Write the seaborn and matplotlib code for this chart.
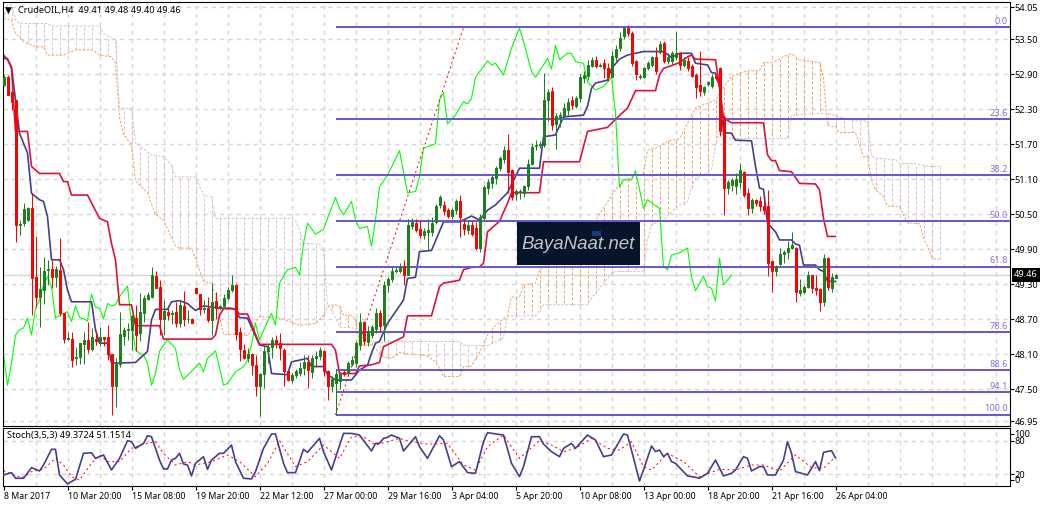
import matplotlib
matplotlib.use("Agg")
import matplotlib.pyplot as plt
from matplotlib.patches import Rectangle
import seaborn as sns

# ── candles (H4 bars, oldest first) ──────────────────────────────────────
opens = [52.72, 52.86, 52.60, 52.46, 50.32, 50.35, 50.40, 50.61, 49.43, 49.08,
         49.21, 49.54, 49.56, 49.42, 49.55, 48.80, 48.36, 48.37, 48.03, 48.05,
         48.27, 48.35, 48.19, 48.37, 48.32, 48.40, 48.40, 48.10, 47.56, 47.93,
         48.42, 48.52, 48.51, 48.73, 48.46, 48.80, 49.05, 49.09, 49.44, 49.25,
         48.70, 48.83, 48.79, 48.82, 48.63, 48.93, 48.70, 48.71, 49.24, 49.13,
         48.88, 48.89, 48.68, 49.02, 48.91, 48.93, 49.07, 49.20, 49.29, 48.48,
         48.17, 48.03, 48.11, 47.92, 47.56, 47.76, 48.16, 48.23, 48.34, 48.29,
         48.18, 47.82, 47.66, 47.75, 47.78, 47.86, 47.96, 47.79, 48.03, 48.07,
         48.16, 47.81, 47.56, 47.60, 47.65, 47.80, 47.79, 47.94, 47.95, 48.26,
         48.65, 48.31, 48.43, 48.53, 48.81, 48.61, 49.29, 49.39, 49.52, 49.53,
         49.62, 49.46, 50.30, 50.35, 50.25, 50.14, 50.20, 50.19, 50.36, 50.66,
         50.66, 50.57, 50.47, 50.57, 50.72, 50.33, 50.23, 50.32, 50.26, 49.92,
         50.43, 50.95, 51.03, 51.12, 51.29, 51.44, 51.61, 51.26, 50.85, 50.88,
         50.87, 50.98, 51.36, 51.67, 51.68, 51.69, 52.46, 52.62, 52.05, 52.17,
         52.19, 52.29, 52.46, 52.36, 52.49, 52.84, 52.87, 53.05, 53.15, 53.04,
         53.10, 53.00, 52.86, 53.19, 53.35, 53.55, 53.70, 53.61, 53.13, 52.85,
         52.85, 53.00, 53.06, 53.20, 53.29, 53.43, 53.13, 53.13, 53.20, 53.26,
         53.06, 53.12, 53.04, 52.89, 52.72, 52.59, 52.73, 52.70, 52.87, 53.00,
         52.17, 50.95, 51.00, 50.98, 51.06, 51.23, 50.86, 50.60, 50.74, 50.72,
         50.65, 50.65, 49.70, 49.52, 49.65, 49.82, 49.86, 49.92, 49.92, 49.15,
         49.17, 49.26, 49.46, 49.24, 49.22, 49.00, 49.75, 49.23, 49.41]
highs = [52.88, 52.88, 52.62, 52.46, 50.40, 50.69, 50.62, 50.86, 50.12, 49.60,
         49.77, 49.72, 49.72, 49.62, 50.10, 48.80, 48.49, 48.49, 48.23, 48.30,
         48.49, 48.66, 48.55, 48.49, 48.57, 48.40, 48.60, 48.10, 48.03, 48.82,
         48.56, 48.63, 48.78, 48.95, 49.15, 49.12, 49.17, 49.60, 49.52, 49.37,
         49.03, 48.89, 48.86, 49.00, 49.03, 49.19, 48.86, 48.72, 49.26, 49.13,
         49.03, 49.09, 49.33, 49.17, 48.95, 49.13, 49.26, 49.46, 49.31, 48.57,
         48.27, 48.20, 48.12, 48.09, 47.78, 48.26, 48.27, 48.40, 48.43, 48.46,
         48.20, 47.83, 47.78, 47.84, 47.97, 48.09, 48.09, 48.09, 48.15, 48.23,
         48.17, 47.83, 47.72, 47.83, 47.80, 47.83, 47.98, 48.07, 48.33, 48.80,
         48.67, 48.58, 48.60, 48.90, 48.86, 49.35, 49.43, 49.60, 49.60, 49.67,
         49.72, 50.42, 50.43, 50.42, 50.40, 50.27, 50.42, 50.45, 50.68, 50.83,
         50.72, 50.60, 50.60, 50.76, 50.83, 50.42, 50.40, 50.38, 50.37, 50.50,
         51.00, 51.10, 51.18, 51.32, 51.50, 51.67, 51.87, 51.28, 50.94, 50.94,
         51.00, 51.45, 51.72, 51.77, 51.75, 52.92, 52.65, 52.68, 52.23, 52.26,
         52.40, 52.50, 52.52, 52.52, 52.90, 52.95, 53.15, 53.20, 53.22, 53.10,
         53.17, 53.10, 53.30, 53.40, 53.62, 53.72, 53.74, 53.65, 53.15, 52.90,
         53.02, 53.13, 53.22, 53.37, 53.47, 53.47, 53.27, 53.30, 53.62, 53.28,
         53.20, 53.20, 53.08, 52.92, 53.30, 52.70, 52.78, 52.90, 52.90, 53.02,
         52.20, 51.08, 51.13, 51.20, 51.38, 51.25, 50.95, 50.78, 50.76, 50.82,
         50.73, 50.92, 49.72, 49.63, 49.92, 49.89, 50.05, 50.20, 49.94, 49.39,
         49.28, 49.52, 49.46, 49.46, 49.23, 49.82, 49.76, 49.49, 49.48]
lows = [52.70, 52.55, 52.29, 50.03, 50.15, 50.30, 50.38, 48.77, 48.91, 48.57,
        48.97, 49.29, 49.23, 49.26, 48.75, 48.30, 48.34, 47.88, 47.92, 47.94,
        47.94, 48.12, 48.15, 48.26, 48.24, 48.24, 48.00, 47.06, 47.19, 47.89,
        48.26, 48.35, 48.17, 48.15, 48.32, 48.66, 49.03, 49.06, 49.23, 48.43,
        48.43, 48.69, 48.62, 48.57, 48.57, 48.59, 48.63, 48.63, 49.14, 48.77,
        48.80, 48.66, 48.43, 48.70, 48.87, 48.91, 49.03, 49.17, 48.35, 47.99,
        48.02, 47.96, 47.74, 47.38, 47.04, 47.52, 47.95, 48.03, 48.20, 48.00,
        47.56, 47.65, 47.60, 47.69, 47.73, 47.74, 47.52, 47.69, 47.89, 48.00,
        47.72, 47.32, 47.46, 47.06, 47.50, 47.72, 47.74, 47.90, 47.88, 48.18,
        48.26, 48.24, 48.38, 48.47, 48.49, 48.33, 49.17, 49.34, 49.50, 49.50,
        49.28, 49.46, 50.25, 50.20, 50.10, 50.08, 49.89, 50.12, 50.33, 50.60,
        50.48, 50.43, 50.42, 50.50, 50.11, 50.14, 50.16, 50.12, 49.89, 49.86,
        50.40, 50.85, 50.95, 51.02, 51.25, 51.38, 50.86, 50.75, 50.74, 50.77,
        50.80, 50.92, 51.34, 51.60, 51.63, 51.65, 52.10, 51.95, 51.62, 52.00,
        52.15, 52.20, 52.30, 52.32, 52.42, 52.75, 52.80, 53.02, 53.00, 53.02,
        52.83, 52.78, 52.85, 53.12, 53.30, 53.50, 53.55, 53.05, 52.80, 52.82,
        52.84, 52.98, 53.03, 52.90, 53.25, 53.10, 53.08, 53.07, 53.15, 52.98,
        53.02, 52.96, 52.85, 52.50, 52.53, 52.55, 52.70, 52.66, 52.80, 51.85,
        50.49, 50.85, 50.90, 50.85, 50.95, 50.80, 50.48, 50.52, 50.64, 50.56,
        50.50, 49.44, 49.17, 49.44, 49.63, 49.66, 49.73, 49.90, 49.00, 49.10,
        49.13, 49.23, 49.15, 49.12, 48.85, 48.93, 49.21, 49.16, 49.40]
closes = [52.86, 52.55, 52.43, 50.32, 50.34, 50.59, 50.60, 49.40, 49.08, 49.22,
          49.52, 49.57, 49.42, 49.56, 48.80, 48.37, 48.38, 48.01, 48.05, 48.29,
          48.35, 48.19, 48.39, 48.33, 48.40, 48.37, 48.10, 47.56, 47.93, 48.44,
          48.52, 48.53, 48.75, 48.43, 48.83, 49.06, 49.12, 49.46, 49.24, 48.70,
          48.84, 48.77, 48.81, 48.63, 48.95, 48.70, 48.71, 48.64, 49.15, 48.87,
          48.90, 48.69, 49.00, 48.89, 48.93, 49.07, 49.20, 49.29, 48.45, 48.19,
          48.03, 48.10, 47.92, 47.56, 47.77, 48.16, 48.23, 48.35, 48.29, 48.20,
          47.82, 47.66, 47.75, 47.82, 47.86, 47.96, 47.83, 48.03, 48.07, 48.17,
          47.82, 47.56, 47.67, 47.77, 47.76, 47.76, 47.95, 48.00, 48.29, 48.66,
          48.32, 48.50, 48.56, 48.80, 48.59, 49.29, 49.39, 49.53, 49.55, 49.59,
          49.46, 50.31, 50.37, 50.23, 50.14, 50.21, 50.23, 50.35, 50.65, 50.80,
          50.55, 50.47, 50.57, 50.73, 50.46, 50.24, 50.32, 50.17, 49.92, 50.45,
          50.97, 51.06, 51.14, 51.29, 51.46, 51.60, 51.23, 50.80, 50.90, 50.90,
          50.98, 51.37, 51.66, 51.69, 51.70, 52.46, 52.59, 52.03, 52.19, 52.20,
          52.32, 52.43, 52.37, 52.49, 52.85, 52.89, 53.06, 53.15, 53.04, 53.06,
          53.00, 52.86, 53.21, 53.33, 53.53, 53.69, 53.60, 53.10, 52.91, 52.87,
          53.00, 53.10, 53.19, 52.95, 53.42, 53.13, 53.19, 53.26, 53.26, 53.06,
          53.15, 53.00, 52.87, 52.68, 52.62, 52.68, 52.76, 52.86, 52.83, 51.92,
          50.95, 51.06, 51.09, 51.10, 51.26, 50.83, 50.60, 50.75, 50.70, 50.65,
          50.57, 49.67, 49.52, 49.59, 49.82, 49.86, 49.92, 49.97, 49.17, 49.20,
          49.26, 49.46, 49.24, 49.21, 49.00, 49.75, 49.26, 49.42, 49.46]

# ── ichimoku cloud spans, one value per bar (runs 26 bars past the last candle) ──
senkou_a = [53.86, 53.84, 53.83, 53.60, 53.53, 53.46, 53.43, 53.40, 53.37, 53.37,
            53.37, 53.23, 53.23, 53.23, 53.23, 53.23, 53.26, 53.29, 53.32, 53.32,
            53.32, 53.32, 53.32, 53.28, 53.23, 53.22, 53.21, 53.20, 53.09, 52.17,
            51.87, 51.78, 51.70, 51.07, 51.00, 50.94, 50.87, 50.68, 50.50, 50.45,
            50.40, 50.25, 50.10, 49.96, 49.92, 49.92, 49.92, 49.92, 49.74, 49.55,
            49.35, 49.33, 49.32, 49.10, 48.75, 48.44, 48.44, 48.44, 48.44, 48.43,
            48.43, 48.42, 48.53, 48.64, 48.75, 48.74, 48.74, 48.73, 48.73, 48.72,
            48.70, 48.67, 48.65, 48.62, 48.60, 48.60, 48.61, 48.62, 48.63, 48.70,
            48.76, 48.92, 48.94, 48.95, 48.92, 48.77, 48.77, 48.77, 48.69, 48.26,
            48.26, 48.26, 48.26, 48.19, 48.12, 48.06, 48.04, 48.03, 48.08, 48.13,
            48.12, 48.11, 48.10, 48.10, 48.09, 48.08, 48.07, 48.02, 47.97, 47.86,
            47.72, 47.72, 47.72, 47.72, 47.72, 47.89, 47.89, 47.90, 48.02, 48.14,
            48.26, 48.43, 48.52, 48.59, 48.66, 48.71, 48.77, 49.08, 49.08, 49.08,
            49.29, 49.30, 49.31, 49.32, 49.55, 49.60, 49.64, 49.68, 49.72, 49.76,
            49.80, 49.87, 49.94, 50.01, 50.08, 50.15, 50.23, 50.32, 50.40, 50.50,
            50.61, 50.71, 50.82, 50.92, 51.00, 51.09, 51.11, 51.13, 51.16, 51.18,
            51.20, 51.60, 51.62, 51.63, 51.67, 51.71, 51.75, 51.77, 51.78, 51.80,
            51.92, 52.06, 52.20, 52.32, 52.35, 52.38, 52.40, 52.43, 52.46, 52.57,
            52.68, 52.77, 52.86, 52.89, 52.92, 52.94, 52.96, 52.96, 52.96, 52.96,
            53.10, 53.10, 53.10, 53.13, 53.16, 53.20, 53.23, 53.25, 53.20, 53.15,
            53.14, 53.13, 53.12, 53.11, 53.10, 52.83, 52.03, 52.01, 52.00, 51.90,
            51.90, 51.90, 51.90, 51.90, 51.69, 51.49, 51.49, 51.09, 50.92, 50.86,
            50.80, 50.64, 50.64, 50.63, 50.63, 50.49, 50.35, 50.35, 50.34, 50.34,
            50.09, 49.95, 49.77, 49.73, 49.73]
senkou_b = [53.86, 54.09, 54.09, 53.83, 53.77, 53.77, 53.77, 53.77, 53.77, 53.77,
            53.77, 53.77, 53.73, 53.73, 53.73, 53.73, 53.73, 53.73, 53.73, 53.73,
            53.73, 53.73, 53.73, 53.73, 53.73, 53.60, 53.56, 53.53, 53.49, 52.32,
            52.32, 52.32, 52.32, 51.72, 51.68, 51.63, 51.57, 51.52, 51.51, 51.50,
            51.49, 51.42, 51.34, 51.14, 51.14, 51.14, 51.14, 51.14, 51.14, 50.98,
            50.83, 50.81, 50.80, 50.43, 50.43, 50.43, 50.43, 50.43, 50.43, 50.43,
            50.43, 50.43, 50.43, 50.43, 50.43, 50.43, 50.43, 50.43, 50.43, 50.43,
            50.43, 50.43, 50.43, 50.40, 50.23, 50.00, 50.00, 50.00, 49.99, 49.99,
            49.90, 48.95, 48.85, 48.72, 48.57, 48.56, 48.56, 48.55, 48.55, 48.40,
            48.38, 48.36, 48.33, 48.31, 48.29, 48.30, 48.31, 48.32, 48.32, 48.33,
            48.32, 48.32, 48.32, 48.32, 48.32, 48.32, 48.32, 48.32, 48.32, 48.32,
            48.32, 48.32, 48.32, 48.32, 48.32, 48.26, 48.25, 48.25, 48.25, 48.25,
            48.25, 48.25, 48.28, 48.31, 48.34, 48.38, 48.76, 48.76, 48.76, 48.76,
            48.76, 48.76, 48.76, 48.76, 48.85, 48.95, 48.95, 48.95, 48.95, 48.95,
            48.95, 48.95, 48.95, 48.95, 48.95, 48.95, 48.95, 49.07, 49.15, 49.23,
            49.32, 49.40, 49.48, 49.52, 49.52, 49.52, 49.52, 49.52, 49.52, 49.52,
            49.52, 50.06, 50.32, 50.35, 50.38, 50.40, 50.47, 50.53, 50.60, 50.66,
            50.67, 50.72, 50.95, 51.11, 51.15, 51.19, 51.22, 51.26, 51.70, 51.89,
            51.86, 51.82, 51.79, 51.80, 51.80, 51.80, 51.80, 51.80, 51.80, 51.80,
            51.80, 51.80, 51.80, 51.80, 51.80, 51.80, 51.80, 52.20, 52.20, 52.21,
            52.21, 52.22, 52.22, 52.22, 52.23, 52.23, 52.23, 52.21, 52.19, 52.17,
            52.15, 52.13, 52.12, 52.10, 52.10, 52.10, 52.10, 51.50, 51.46, 51.46,
            51.45, 51.45, 51.44, 51.44, 51.37, 51.37, 51.37, 51.37, 51.37, 51.35,
            51.34, 51.32, 51.32, 51.32, 51.32]

# ── tenkan / kijun / chikou, turning points only ─────────────────────────
tenkan_bars = [0, 1, 2, 4, 5, 6, 7, 9, 10, 11, 12, 14, 15, 16, 17, 22, 23, 24, 26, 27, 29, 33, 36, 37, 38, 41,
               42, 44, 46, 48, 50, 54, 57, 58, 59, 61, 64, 66, 67, 71, 72, 76, 77, 80, 81, 83, 87, 89, 91, 92,
               93, 94, 96, 100, 101, 103, 104, 107, 110, 114, 117, 119, 121, 123, 126, 129, 134, 135, 138, 140,
               145, 146, 147, 148, 151, 152, 154, 156, 160, 165, 167, 169, 172, 173, 176, 177, 178, 179, 180,
               182, 183, 187, 188, 189, 190, 191, 193, 194, 197, 198, 199, 200, 203, 204, 205, 206, 208]
tenkan_vals = [53.23, 53.15, 53.03, 51.89, 51.72, 51.55, 50.86, 50.75, 50.72, 50.46, 49.72, 49.72, 49.55, 49.20,
               49.00, 49.00, 48.52, 48.29, 48.29, 47.95, 47.95, 47.96, 48.15, 48.69, 48.87, 48.87, 49.00, 49.02,
               48.97, 48.85, 48.93, 48.89, 48.89, 48.86, 48.73, 48.72, 48.26, 48.23, 47.77, 47.75, 47.97, 48.03,
               47.89, 47.89, 47.75, 47.66, 47.66, 47.83, 47.91, 48.12, 48.29, 48.32, 48.63, 49.03, 49.40, 49.42,
               49.86, 49.88, 50.37, 50.37, 50.47, 50.40, 50.57, 50.66, 50.87, 51.29, 51.29, 51.83, 51.86, 52.17,
               52.20, 52.35, 52.66, 52.75, 52.80, 53.00, 53.16, 53.23, 53.29, 53.29, 53.19, 53.26, 53.26, 53.09,
               53.06, 52.93, 52.92, 52.69, 51.90, 51.89, 51.77, 51.76, 51.32, 50.95, 50.93, 50.35, 50.20, 50.06,
               50.06, 49.99, 49.97, 49.63, 49.63, 49.55, 49.52, 49.35, 49.35]
kijun_bars = [0, 1, 2, 3, 6, 7, 9, 14, 15, 16, 17, 21, 24, 26, 27, 28, 29, 32, 33, 39, 40, 52, 53, 54, 55, 58, 59,
              61, 64, 82, 83, 84, 88, 89, 92, 94, 95, 100, 101, 107, 109, 110, 114, 115, 117, 119, 120, 121, 124,
              126, 127, 134, 135, 144, 146, 151, 153, 156, 158, 163, 164, 165, 169, 171, 172, 173, 178, 179, 180,
              182, 190, 191, 192, 193, 194, 197, 199, 203, 204, 205, 206, 208]
kijun_vals = [53.17, 53.17, 53.00, 51.92, 51.92, 51.32, 51.20, 51.20, 51.06, 51.06, 50.83, 50.83, 50.43, 50.37,
              50.00, 49.72, 48.95, 48.95, 48.59, 48.59, 48.36, 48.36, 48.43, 48.77, 48.88, 48.88, 48.79, 48.79,
              48.27, 48.27, 48.17, 47.77, 47.77, 47.90, 47.92, 47.96, 48.23, 48.40, 48.76, 48.76, 49.26, 49.32,
              49.37, 49.55, 49.59, 49.60, 49.66, 50.20, 50.38, 50.69, 50.87, 50.87, 51.40, 51.40, 51.92, 51.99,
              52.13, 52.32, 52.62, 52.62, 52.89, 53.00, 53.10, 53.20, 53.23, 53.16, 53.15, 52.69, 52.15, 52.07,
              52.07, 51.52, 51.42, 51.42, 51.25, 51.23, 51.03, 51.02, 50.92, 50.43, 50.12, 50.12]
chikou_bars = [0, 1, 2, 3, 4, 5, 6, 7, 8, 9, 10, 11, 12, 13, 14, 15, 16, 17, 18, 19, 20, 21, 22, 23, 24, 25, 26, 27,
               28, 29, 31, 32, 33, 34, 35, 36, 37, 38, 39, 41, 43, 44, 45, 49, 50, 51, 53, 55, 56, 58, 60, 61, 62,
               63, 64, 66, 67, 68, 69, 71, 73, 74, 75, 76, 78, 80, 81, 83, 84, 85, 87, 88, 89, 91, 92, 93, 94, 96,
               99, 101, 103, 104, 105, 108, 109, 110, 111, 113, 115, 116, 117, 118, 121, 122, 123, 125, 127, 129,
               130, 132, 133, 136, 137, 138, 139, 141, 142, 143, 145, 146, 148, 150, 152, 153, 154, 155, 157, 158,
               160, 161, 164, 165, 166, 167, 169, 171, 172, 173, 175, 176, 177, 178, 179, 180, 182]
chikou_vals = [48.09, 47.57, 47.95, 48.43, 48.52, 48.55, 48.72, 48.43, 48.89, 49.03, 49.29, 49.43, 49.26, 48.72,
               48.77, 48.80, 48.83, 48.66, 48.93, 48.73, 48.71, 48.67, 49.13, 48.91, 48.89, 48.71, 48.97, 48.93,
               48.95, 49.09, 49.27, 48.63, 48.17, 48.12, 48.09, 47.95, 47.57, 47.77, 48.15, 48.35, 48.20, 47.83,
               47.67, 47.95, 47.80, 48.03, 48.16, 47.57, 47.60, 47.80, 47.89, 48.00, 48.26, 48.63, 48.35, 48.66,
               48.80, 48.60, 49.32, 49.55, 49.59, 49.46, 50.00, 50.35, 50.16, 50.24, 50.43, 50.79, 50.60, 50.49,
               50.72, 50.40, 50.26, 50.29, 49.95, 50.40, 50.97, 51.17, 51.59, 50.87, 50.89, 51.15, 51.63, 51.71,
               52.46, 52.59, 52.05, 52.20, 52.43, 52.39, 52.49, 52.85, 53.13, 53.06, 53.09, 52.89, 53.35, 53.69,
               53.46, 52.95, 52.85, 53.17, 52.99, 53.40, 53.15, 53.26, 53.26, 53.12, 53.09, 52.77, 52.63, 52.69,
               52.85, 52.23, 50.97, 51.09, 51.09, 51.25, 50.60, 50.75, 50.60, 49.60, 49.55, 49.80, 49.84, 49.92,
               49.43, 49.19, 49.44, 49.26, 49.23, 49.01, 49.75, 49.29, 49.46]

# fibo retracement levels and the red dotted trend line of the retracement
fib_levels = [53.71, 52.13, 51.17, 50.385, 49.60, 48.48, 47.83, 47.45, 47.06]
fib_labels = ["0.0", "23.6", "38.2", "50.0", "61.8", "78.6", "88.6", "94.1", "100.0"]
fib_start = 83
trend_bars = [83, 115]
trend_vals = [47.06, 53.70]
last_price = 49.46

# ── stochastic pane ──────────────────────────────────────────────────────
stoch_bars = [0, 2, 3, 5, 7, 9, 10, 12, 13, 14, 16, 18, 20, 22, 23, 25, 27, 29, 31, 32, 33, 35, 36, 37, 39, 40, 41,
              42, 43, 44, 45, 46, 47, 48, 50, 51, 52, 54, 55, 57, 58, 60, 62, 63, 65, 67, 68, 70, 71, 73, 75, 76,
              79, 80, 82, 85, 87, 89, 92, 93, 94, 95, 96, 97, 99, 100, 103, 104, 106, 109, 110, 112, 114, 116, 118,
              120, 121, 125, 127, 129, 130, 132, 134, 135, 137, 139, 140, 142, 143, 146, 148, 150, 152, 155, 156,
              159, 160, 162, 163, 164, 165, 166, 167, 168, 171, 173, 174, 176, 178, 180, 182, 183, 185, 186, 187,
              189, 190, 191, 193, 195, 196, 197, 198, 201, 203, 204, 205, 207, 208]
stoch_vals = [18.8, 23.0, 12.9, 12.9, 31.9, 25.9, 36.6, 64.6, 64.6, 18.8, 2.8, 11.1, 57.4, 58.6, 48.5, 54.5, 27.7,
              48.5, 80.0, 78.2, 66.3, 75.2, 88.9, 87.1, 45.5, 29.5, 29.5, 45.5, 48.5, 57.4, 38.4, 36.6, 17.0, 39.6,
              51.5, 28.9, 45.5, 57.4, 57.4, 72.3, 42.6, 12.9, 11.7, 24.8, 66.3, 91.9, 91.9, 39.6, 23.0, 23.0, 64.6,
              59.2, 84.2, 60.4, 27.7, 93.0, 93.0, 90.1, 61.6, 75.2, 75.2, 84.2, 85.9, 90.1, 84.2, 61.6, 87.1, 69.3,
              48.5, 88.9, 81.2, 33.7, 42.6, 23.0, 21.8, 78.2, 94.3, 90.1, 39.6, 15.8, 33.7, 87.1, 87.1, 74.0, 60.4,
              51.5, 66.3, 75.2, 66.3, 90.1, 81.2, 51.5, 54.5, 91.9, 90.1, 8.1, 27.7, 70.5, 60.4, 63.4, 51.5, 57.4,
              42.6, 39.6, 17.0, 14.7, 12.9, 21.8, 45.5, 17.0, 21.8, 27.7, 51.5, 48.5, 25.9, 33.7, 33.7, 18.8, 18.8,
              45.5, 78.2, 57.4, 24.8, 18.8, 42.6, 26.5, 59.2, 62.2, 49.4]
signal_bars = [0, 3, 5, 7, 10, 13, 15, 17, 19, 22, 24, 26, 29, 32, 35, 38, 40, 43, 46, 48, 52, 56, 59, 63, 66, 69, 73,
               76, 80, 84, 87, 90, 93, 96, 99, 102, 106, 111, 115, 118, 121, 125, 129, 134, 137, 140, 143, 147, 151,
               154, 157, 160, 162, 166, 170, 174, 179, 183, 187, 190, 194, 198, 202, 205, 208]
signal_vals = [26.5, 17.0, 14.7, 24.8, 28.9, 48.5, 36.6, 15.8, 9.9, 39.6, 54.5, 42.6, 42.6, 66.3, 74.0, 78.2, 57.4,
               36.6, 42.6, 36.6, 42.6, 54.5, 42.6, 15.8, 39.6, 80.0, 33.7, 42.6, 72.3, 48.5, 87.1, 87.1, 72.3, 78.2,
               84.2, 78.2, 74.0, 75.2, 36.6, 27.7, 69.3, 90.1, 48.5, 80.0, 72.3, 60.4, 66.3, 84.2, 66.3, 63.4, 78.2,
               33.7, 27.7, 57.4, 42.6, 15.8, 28.9, 27.7, 36.6, 36.6, 25.9, 54.5, 31.9, 30.7, 51.15]

# ── axis ticks ───────────────────────────────────────────────────────────
price_ticks = [54.05, 53.50, 52.90, 52.30, 51.70, 51.10, 50.50, 49.90, 49.30, 48.70, 48.10, 47.50, 46.95]
date_tick_bars = [0, 16, 32, 48, 64, 80, 96, 112, 128, 144, 160, 176, 192, 208]
date_labels = ["8 Mar 2017", "10 Mar 20:00", "15 Mar 08:00", "19 Mar 20:00", "22 Mar 12:00", "27 Mar 00:00",
               "29 Mar 16:00", "3 Apr 04:00", "5 Apr 20:00", "10 Apr 08:00", "13 Apr 00:00", "18 Apr 20:00",
               "21 Apr 16:00", "26 Apr 04:00"]
grid_bars = list(range(8, 249, 8))

sns.set_theme(style="white")
plt.rcParams["font.family"] = ["Noto Sans", "DejaVu Sans"]
plt.rcParams["axes.linewidth"] = 0.8

W, H = 1049, 507
fig = plt.figure(figsize=(W / 100, H / 100), dpi=100, facecolor="white")
ax = fig.add_axes([2.5 / W, (H - 425.5) / H, 1007 / W, 423 / H])
ax_st = fig.add_axes([2.5 / W, (H - 486) / H, 1007 / W, 58.5 / H])

GRID = "#d6d6d6"
GREEN = "#1c801c"
RED = "#ff0000"
SANDY = "#f4a460"
THISTLE = "#d8bfd8"
SLATE = "#6a5acd"
TXT = 6.6


def draw_line(axis, xs, ys, color, lw, z, ls="-", aa=True):
    sns.lineplot(x=xs, y=ys, color=color, linewidth=lw, linestyle=ls, estimator=None, antialiased=aa,
                 sort=False, errorbar=None, legend=False, ax=axis, zorder=z)


# cloud hatch on every second bar, then the span lines
cloud_x = list(range(len(senkou_a)))
cloud_colors = [SANDY if a > b else THISTLE for a, b in zip(senkou_a, senkou_b)]
hatch = ax.vlines(cloud_x[::2], senkou_a[::2], senkou_b[::2], colors=cloud_colors[::2], linewidth=0.72,
                  linestyles=[(0, (3, 2))], zorder=1.5)
hatch.set_snap(True)
draw_line(ax, cloud_x, senkou_a, SANDY, 0.72, 1.6, ls=(0, (2.5, 1.5)))
draw_line(ax, cloud_x, senkou_b, THISTLE, 0.72, 1.6, ls=(0, (2.5, 1.5)))

ax.axhline(last_price, color=GRID, linewidth=1, zorder=1.2)
draw_line(ax, chikou_bars, chikou_vals, "#00ff00", 0.8, 2)
draw_line(ax, tenkan_bars, tenkan_vals, "#483d8b", 1.2, 2.2)
draw_line(ax, kijun_bars, kijun_vals, "#dc143c", 1.2, 2.3)
draw_line(ax, trend_bars, trend_vals, RED, 0.72, 2.4, ls=(0, (2, 3)))

# fibo levels
ax.hlines(fib_levels, fib_start, 251.5, color=SLATE, linewidth=1.45, zorder=2.5)
for level, label in zip(fib_levels, fib_labels):
    ax.text(251.1, level + 0.025, label, color="#7f74dc", fontsize=TXT, ha="right", va="bottom", zorder=6)

# candles
candle_x = list(range(len(opens)))
colors = [GREEN if c >= o else RED for o, c in zip(opens, closes)]
ax.vlines(candle_x, lows, highs, colors=colors, linewidth=0.72, zorder=3)
ax.bar(candle_x, [abs(c - o) for o, c in zip(opens, closes)], bottom=[min(o, c) for o, c in zip(opens, closes)],
       width=0.5, color=colors, edgecolor=colors, linewidth=0.72, zorder=3.1)

# watermark
ax.add_patch(Rectangle((128.4, 49.63), 30.7, 0.74, facecolor="#06152a", edgecolor="none", zorder=5))
ax.add_patch(Rectangle((147.2, 50.12), 2.1, 0.09, facecolor="#1c3a78", edgecolor="none", zorder=5.1))
ax.text(143.7, 49.99, "BayaNaat.net", color="#c4c4c4", fontsize=13.5, family="Liberation Sans", style="italic",
        ha="center", va="center", zorder=5.2)

# header texts
ax.text(0.0062, 0.9815, "\u25bc", transform=ax.transAxes, fontsize=6.5, family="DejaVu Sans",
        color="black", ha="center", va="center", zorder=6)
ax.text(0.0155, 0.982, "CrudeOIL,H4  49.41 49.48 49.40 49.46", transform=ax.transAxes, fontsize=TXT,
        color="black", ha="left", va="center", zorder=6)

ax.set_xlim(-0.25, 251.5)
ax.set_ylim(46.879, 54.131)
ax.set_xticks(grid_bars)
ax.set_yticks(price_ticks)
ax.set_yticklabels([f"{p:.2f}" for p in price_ticks])
ax.yaxis.tick_right()
ax.tick_params(axis="y", length=3, width=0.8, color="black", pad=0.5, labelsize=TXT, labelcolor="black", right=True)
ax.tick_params(axis="x", length=0, labelbottom=False)
ax.grid(True, color=GRID, linewidth=1, linestyle=(0, (3, 3)))
ax.set_axisbelow(True)
ax.set_xlabel("")
ax.set_ylabel("")
for s in ax.spines.values():
    s.set_visible(True)
    s.set_color("black")

# last price tag
ax.text(1.0045, last_price, f"{last_price:.2f}", transform=ax.get_yaxis_transform(), color="white",
        fontsize=TXT, ha="left", va="center", zorder=10, clip_on=False,
        bbox=dict(facecolor="black", edgecolor="none", pad=1.8))

# stochastic
draw_line(ax_st, signal_bars, signal_vals, RED, 0.72, 2, ls=(0, (2, 3)))
draw_line(ax_st, stoch_bars, stoch_vals, "#483d8b", 1.2, 3)
ax_st.text(0.0045, 0.855, "Stoch(3,5,3) 49.3724 51.1514", transform=ax_st.transAxes, fontsize=TXT,
           color="black", ha="left", va="center", zorder=6)
ax_st.set_xlim(-0.25, 251.5)
ax_st.set_ylim(-0.89, 103.57)
ax_st.set_xticks(date_tick_bars)
ax_st.set_xticklabels(date_labels, ha="left")
for tick in grid_bars:
    ax_st.axvline(tick, color=GRID, linewidth=1, linestyle=(0, (3, 3)), zorder=1)
ax_st.hlines([20, 80], -0.25, 251.5, color=GRID, linewidth=1, linestyle=(0, (3, 3)), zorder=1)
# the platform prints 100 and 0 inside the pane margins
ax_st.set_yticks([10, 20, 80, 92])
ax_st.set_yticklabels(["0", "20", "80", "100"])
ax_st.yaxis.tick_right()
ax_st.tick_params(axis="y", length=3, width=0.8, color="black", pad=0.5, labelsize=TXT, labelcolor="black", right=True)
ax_st.tick_params(axis="x", length=3, width=0.8, color="black", pad=1.5, labelsize=6.3, labelcolor="black", bottom=True)
ax_st.set_xlabel("")
ax_st.set_ylabel("")
for s in ax_st.spines.values():
    s.set_visible(True)
    s.set_color("black")

fig.savefig("out.png", dpi=100, facecolor="white")
